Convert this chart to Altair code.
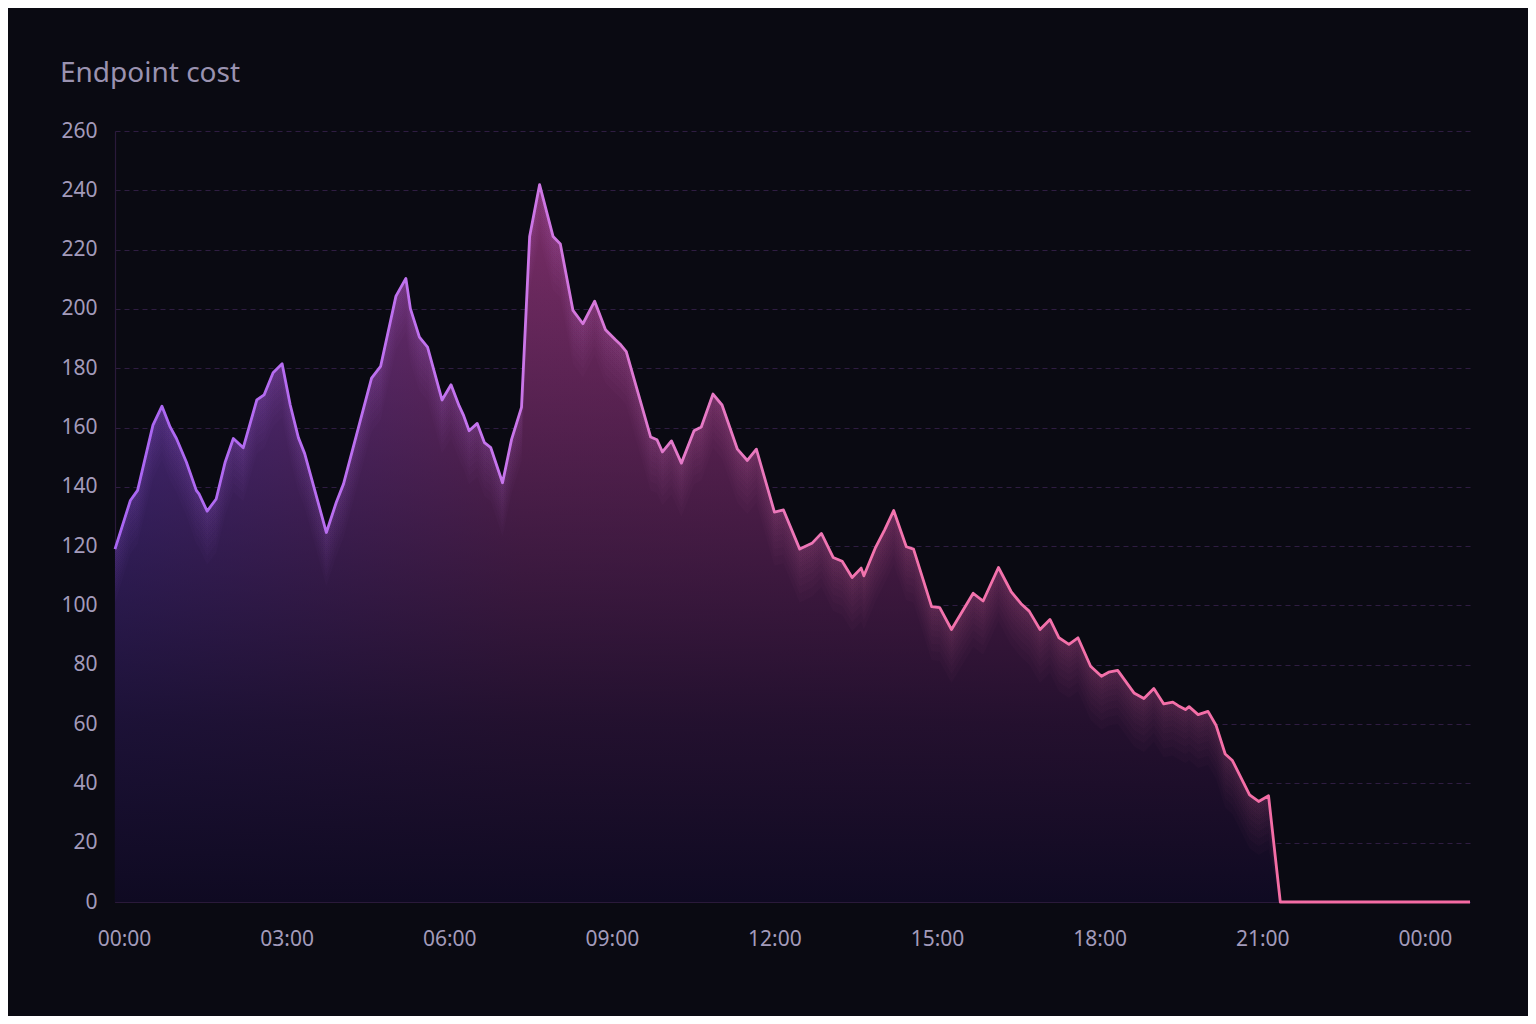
import altair as alt
import pandas as pd

# ---- data (minutes after 00:00, cost) ----
minutes = [-10, 7, 15, 32, 42, 51, 58, 69, 80, 83,
           92, 102, 112, 121, 132, 147, 155, 165, 175, 184,
           193, 200, 224, 235, 243, 274, 284, 301, 312, 317,
           327, 336, 352, 362, 371, 376, 382, 391, 399, 406,
           419, 429, 440, 449, 460, 475, 483, 497, 508, 521,
           533, 544, 549, 556, 583, 590, 596, 606, 617, 631,
           639, 652, 662, 679, 690, 700, 720, 730, 748, 762,
           772, 785, 795, 806, 816, 819, 832, 842, 852, 866,
           874, 894, 903, 916, 940, 951, 968, 982, 993, 1002,
           1014, 1025, 1035, 1046, 1056, 1070, 1082, 1090, 1100, 1118,
           1129, 1140, 1151, 1161, 1167, 1175, 1179, 1189, 1200, 1209,
           1219, 1227, 1246, 1256, 1267, 1280, 1490]
cost = [119, 135.4, 138.8, 160.8, 167.2, 160.2, 156.3, 148.4, 138.8, 137.6,
        131.8, 135.9, 148.4, 156.3, 153.2, 169.3, 171, 178.5, 181.5, 167.6,
        156.6, 151.2, 124.6, 134.8, 141, 176.7, 180.6, 204.3, 210.3, 200.1,
        190.5, 187.1, 169.3, 174.4, 167.3, 164, 158.9, 161.4, 154.9, 153.2,
        141.4, 156, 166.8, 224.4, 241.9, 224.4, 221.9, 199.5, 195, 202.6,
        193, 189.6, 188.2, 185.6, 156.8, 155.9, 151.8, 155.5, 148, 158.9,
        160.2, 171.3, 167.6, 152.7, 148.9, 152.7, 131.5, 132.2, 119, 121.1,
        124.3, 116.2, 114.9, 109.4, 112.6, 110, 119.6, 125.5, 132, 119.8,
        119, 99.6, 99.3, 91.9, 104.1, 101.5, 112.8, 104.7, 100.6, 98.1,
        91.9, 95.3, 89.1, 86.9, 89.1, 79.5, 76.1, 77.5, 78.1, 70.5,
        68.6, 72, 66.8, 67.4, 66.2, 64.9, 65.9, 63.2, 64.3, 59.5,
        49.9, 47.7, 36.1, 33.9, 35.8, 0, 0]
x_ticks = [0, 180, 360, 540, 720, 900, 1080, 1260, 1440]
y_ticks = list(range(0, 261, 20))
title_text = "Endpoint cost"

df = pd.DataFrame({"minute": minutes, "cost": cost})

CARD_BG = "#0a0a12"
LABEL = "#a39bbb"
GRID = "#2f1d42"

line_grad = {
    "gradient": "linear", "x1": 0, "y1": 0, "x2": 1, "y2": 0,
    "stops": [
        {"offset": 0.0, "color": "#a966f3"},
        {"offset": 0.28, "color": "#c675ee"},
        {"offset": 0.42, "color": "#e57ac8"},
        {"offset": 0.55, "color": "#f274ae"},
        {"offset": 1.0, "color": "#f56aa2"},
    ],
}
fill_grad = {
    "gradient": "linear", "x1": 0, "y1": 0, "x2": 1, "y2": 0,
    "stops": [
        {"offset": 0.0, "color": "#573393"},
        {"offset": 0.3, "color": "#7a2e68"},
        {"offset": 1.0, "color": "#8c2a64"},
    ],
}
shade_grad = {
    "gradient": "linear", "x1": 0, "y1": 0, "x2": 0, "y2": 1,
    "stops": [
        {"offset": 0.0, "color": "rgba(15,10,34,0.0)"},
        {"offset": 0.35, "color": "rgba(15,10,34,0.38)"},
        {"offset": 0.75, "color": "rgba(15,10,34,0.82)"},
        {"offset": 1.0, "color": "rgba(15,10,34,1.0)"},
    ],
}

label_expr = ("(floor(datum.value / 60) % 24 < 10 ? '0' : '') + "
              "(floor(datum.value / 60) % 24) + ':00'")

x_enc = alt.X("minute:Q",
              scale=alt.Scale(domain=[-10, 1490], nice=False, zero=False),
              axis=alt.Axis(values=x_ticks, labelExpr=label_expr, title=None,
                            grid=False, labelPadding=26, labelAlign="center"))
y_enc = alt.Y("cost:Q",
              scale=alt.Scale(domain=[0, 260], nice=False),
              axis=alt.Axis(values=y_ticks, title=None, grid=True,
                            labelPadding=18))

base = alt.Chart(df)

fill = base.mark_area(color=fill_grad, interpolate="linear").encode(x=x_enc, y=y_enc)
shade = base.mark_area(color=shade_grad, interpolate="linear").encode(x=x_enc, y=y_enc)


def glow(delta, op):
    return (base.transform_calculate(lo=f"max(datum.cost - {delta}, 0)")
            .mark_area(color=line_grad, opacity=op, interpolate="linear")
            .encode(x=x_enc, y=y_enc, y2="lo:Q"))


glows = [glow(d, 0.022) for d in (1.5, 3, 4.5, 6, 8, 10, 12.5, 15, 18)]

line = base.mark_line(color=line_grad, strokeWidth=2.8, strokeJoin="round",
                      interpolate="linear").encode(x=x_enc, y=y_enc)

chart = alt.layer(
    fill, shade, *glows, line
).properties(
    width=1355,
    height=771,
    autosize=alt.AutoSizeParams(type="none"),
    padding={"left": 107, "top": 123, "right": 58, "bottom": 114},
    background=CARD_BG,
    title=alt.TitleParams(title_text, anchor="start", frame="group", dx=-55,
                          offset=10, baseline="alphabetic", fontSize=28,
                          fontWeight="normal", color="#9a92b0", font="Noto Sans"),
).configure(
    font="Noto Sans"
).configure_view(
    strokeWidth=0
).configure_axis(
    labelFont="Noto Sans",
    labelFontSize=21,
    labelColor=LABEL,
    domainColor="#2a1a3a",
    domainWidth=1.2,
    ticks=False,
    tickSize=0,
    gridColor=GRID,
    gridDash=[5, 4],
    gridWidth=1,
)

chart.save("out.html", embed_options={"renderer": "svg", "actions": False})
